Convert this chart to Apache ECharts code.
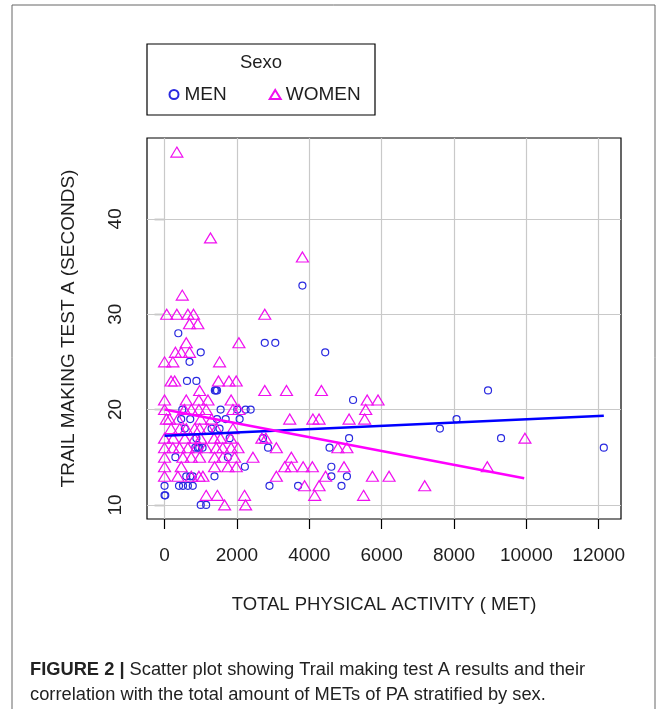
<!DOCTYPE html>
<html>
<head>
<meta charset="utf-8">
<script src="https://cdn.jsdelivr.net/npm/echarts@6/dist/echarts.min.js"></script>
<style>
html,body{margin:0;padding:0;background:#fff;}
#chart{width:666px;height:709px;}
</style>
</head>
<body>
<div id="chart"></div>
<script>
// ---- data ----
var xTicks = [0, 2000, 4000, 6000, 8000, 10000, 12000];
var yTicks = [10, 20, 30, 40];
var menPoints = [
  [3810,33],[4440,26],[380,28],[2770,27],[3060,27],[1000,26],[690,25],[620,23],[880,23],
  [1390,22],[1420,22],[1450,22],[8940,22],[5210,21],[490,20],[1550,20],[2010,20],[2240,20],
  [2380,20],[460,19],[710,19],[1450,19],[1690,19],[2075,19],[8070,19],[7610,18],[560,18],
  [1300,18],[1520,18],[2720,17],[5100,17],[9300,17],[1800,17],[880,17],[920,16],[960,16],
  [850,16],[1050,16],[2860,16],[4560,16],[12140,16],[300,15],[1750,15],[2220,14],[4610,14],
  [600,13],[710,13],[780,13],[1380,13],[4610,13],[5040,13],[0,12],[400,12],[510,12],[645,12],
  [780,12],[2900,12],[3690,12],[4890,12],[0,11],[20,11],[1000,10],[1150,10]
];
var womenPoints = [
  [340,47],[1270,38],[3810,36],[490,32],
  [60,30],[340,30],[645,30],[800,30],[2770,30],
  [690,29],[920,29],[600,27],[2055,27],
  [300,26],[460,26],[690,26],[0,25],[230,25],[1520,25],
  [180,23],[280,23],[1490,23],[1780,23],[1980,23],
  [970,22],[2770,22],[3370,22],[4335,22],
  [0,21],[600,21],[950,21],[1200,21],[1840,21],[5600,21],[5900,21],
  [0,20],[550,20],[740,20],[950,20],[1150,20],[1890,20],[2055,20],[5560,20],
  [50,19],[140,19],[370,19],[1000,19],[1300,19],[3460,19],[4100,19],[4270,19],[5100,19],[5530,19],
  [180,18],[420,18],[600,18],[830,18],[970,18],[1200,18],[1430,18],[1890,18],
  [0,17],[240,17],[560,17],[830,17],[1000,17],[1370,17],[1550,17],[1830,17],[2690,17],[2800,17],[9960,17],
  [0,16],[230,16],[415,16],[645,16],[876,16],[1150,16],[1430,16],[1610,16],[1840,16],[2030,16],[3090,16],[4790,16],[5040,16],
  [0,15],[507,15],[738,15],[968,15],[1383,15],[1614,15],[1936,15],[2443,15],[3504,15],
  [0,14],[461,14],[1383,14],[1752,14],[1982,14],[3320,14],[3504,14],[3830,14],[4085,14],[4960,14],[8920,14],
  [0,13],[368,13],[738,13],[950,13],[1060,13],[3090,13],[4450,13],[5745,13],[6205,13],
  [3870,12],[4270,12],[7190,12],
  [1150,11],[1460,11],[2210,11],[4150,11],[5500,11],
  [1660,10],[2240,10]
];
var menLine = [[0,17.25],[12140,19.35]];
var womenLine = [[0,20.0],[9940,12.8]];
var seriesNames = ['MEN', 'WOMEN'];

var FONT = 'Liberation Sans, Arial, sans-serif';
var TXT = '#1e1e1e';
var MEN_C = '#2a2ae0';
var WOMEN_C = '#f010f0';

var gridLines = xTicks.map(function(v){return {xAxis: v};})
  .concat(yTicks.map(function(v){return {yAxis: v};}));

var chart = echarts.init(document.getElementById('chart'), null, {renderer: 'canvas'});
chart.setOption({
  animation: false,
  backgroundColor: '#fff',
  textStyle: {fontFamily: FONT},
  grid: {
    left: 147, top: 138, width: 474, height: 381,
    show: true, borderColor: '#000', borderWidth: 1.2,
    outerBoundsMode: 'none'
  },
  xAxis: {
    type: 'value', min: -485, max: 12615,
    splitLine: {show: false},
    axisLine: {show: false},
    axisTick: {show: true, inside: false, length: 10, customValues: xTicks, lineStyle: {color: '#000', width: 1.2}},
    axisLabel: {customValues: xTicks, fontSize: 19, color: TXT, margin: 27, fontFamily: FONT,
      formatter: function (v) { return String(v); }},
    name: 'TOTAL PHYSICAL ACTIVITY ( MET)', nameLocation: 'middle', nameGap: 76,
    nameTextStyle: {fontSize: 18.5, color: TXT, fontFamily: FONT}
  },
  yAxis: {
    type: 'value', min: 8.52, max: 48.48,
    splitLine: {show: false},
    axisLine: {show: false},
    axisTick: {show: true, inside: false, length: 10, customValues: yTicks, lineStyle: {color: '#000', width: 1.2}},
    axisLabel: {customValues: yTicks, fontSize: 19, color: TXT, rotate: 90, margin: 22, fontFamily: FONT,
      formatter: function (v) { return String(v); }},
    name: 'TRAIL MAKING TEST A (SECONDS)', nameLocation: 'middle', nameGap: 69, nameRotate: 90,
    nameTextStyle: {fontSize: 19, color: TXT, fontFamily: FONT}
  },
  legend: {
    data: [{name: 'MEN', icon: 'circle'}, {name: 'WOMEN', icon: 'triangle'}],
    left: 163.5, top: 80, itemWidth: 11, itemHeight: 9, itemGap: 42, padding: 5,
    selectedMode: false,
    textStyle: {fontSize: 19, color: TXT, fontFamily: FONT}
  },
  graphic: [
    {type: 'rect', shape: {x: 12, y: 5, width: 643, height: 730}, style: {fill: 'none', stroke: '#666', lineWidth: 1}, silent: true},
    {type: 'rect', shape: {x: 147, y: 44, width: 228, height: 71}, style: {fill: '#fff', stroke: '#000', lineWidth: 1.2}, silent: true, z: -1},
    {type: 'text', x: 261, y: 63, style: {text: 'Sexo', fontSize: 18.5, fill: TXT, fontFamily: FONT, align: 'center', verticalAlign: 'middle'}, silent: true},
    {type: 'text', x: 30, y: 657, style: {
      text: '{b|FIGURE 2 | }Scatter plot showing Trail making test A results and their\ncorrelation with the total amount of METs of PA stratified by sex.',
      fontSize: 18.3, lineHeight: 25, fill: '#222', fontFamily: FONT,
      rich: {b: {fontWeight: 'bold', fontSize: 18.3, fill: '#222', fontFamily: FONT}}
    }, silent: true}
  ],
  series: [
    {
      name: seriesNames[0], type: 'scatter', data: menPoints, z: 3,
      symbol: 'circle', symbolSize: 7,
      itemStyle: {color: 'rgba(0,0,0,0)', borderColor: MEN_C, borderWidth: 1.2, opacity: 1},
      emphasis: {disabled: true},
      markLine: {
        silent: true, symbol: 'none', animation: false, z: 1,
        label: {show: false},
        lineStyle: {color: '#c9c9c9', width: 1.2, type: 'solid'},
        emphasis: {disabled: true},
        data: gridLines
      }
    },
    {
      name: seriesNames[1], type: 'scatter', data: womenPoints, z: 3,
      symbol: 'triangle', symbolSize: [12, 10],
      itemStyle: {color: 'rgba(0,0,0,0)', borderColor: WOMEN_C, borderWidth: 1.2, opacity: 1},
      emphasis: {disabled: true}
    },
    {
      name: 'menFit', type: 'line', data: menLine, z: 4, showSymbol: false, symbol: 'none',
      lineStyle: {color: '#0000ff', width: 2.5}, silent: true
    },
    {
      name: 'womenFit', type: 'line', data: womenLine, z: 4, showSymbol: false, symbol: 'none',
      lineStyle: {color: '#ff00ff', width: 2.5}, silent: true
    }
  ]
});
</script>
</body>
</html>
